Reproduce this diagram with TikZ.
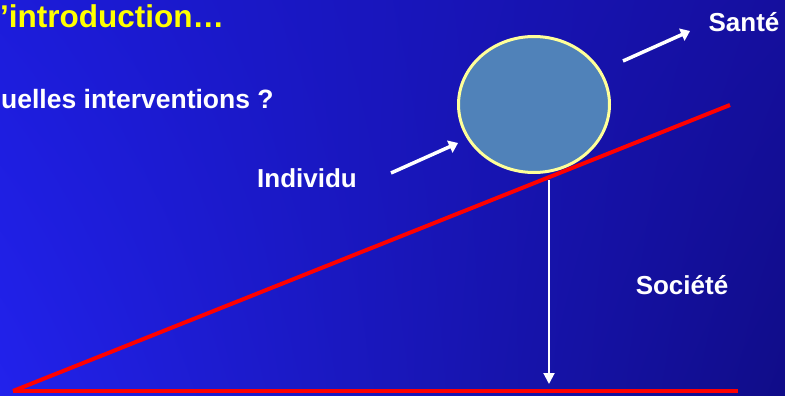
\documentclass[tikz,border=0pt]{standalone}
\usepackage{fontspec}
\setmainfont{Liberation Sans}
\usetikzlibrary{shapes.geometric,arrows.meta,shadings}
\definecolor{bgUL}{HTML}{1C1CDA}
\definecolor{bgLL}{HTML}{2222EC}
\definecolor{bgUR}{HTML}{150F9E}
\definecolor{bgLR}{HTML}{100C88}
\definecolor{ballfill}{HTML}{5082B9}
\definecolor{ballrim}{HTML}{FFFF99}
\definecolor{titleyel}{HTML}{FFFF00}
\begin{document}
\begin{tikzpicture}[x=1pt, y=-1pt,
   lbl/.style={font=\fontsize{26}{30}\selectfont\bfseries, text=white, inner sep=0pt},
   push/.style={draw=white, line width=3.5pt, -{Triangle[length=9pt, width=13pt]}},
   slope/.style={draw=red, line width=4pt}]
      \useasboundingbox (0,0) rectangle (785,396);
      \shade[upper left=bgUL, lower left=bgLL, upper right=bgUR, lower right=bgLR] (0,0) rectangle (785,396);
      \node[anchor=base west, inner sep=0pt, text=titleyel, font=\fontsize{31.5}{36}\selectfont\bfseries] (title) at (0,28) {’introduction…};
      \node[lbl, anchor=base west, font=\fontsize{26.5}{30}\selectfont\bfseries] (quest) at (1,108) {uelles interventions ?};
      \coordinate (foot) at (13,391);
      \coordinate (top) at (730,105);
      \coordinate (ground) at (738,391);
      \node[ellipse, draw=ballrim, line width=3pt, fill=ballfill, minimum width=151pt, minimum height=136pt, inner sep=0pt] (ball) at (534,104.5) {};
      \node[lbl, anchor=base] (indiv) at (307,187) {Individu};
      \node[lbl, anchor=base] (sante) at (744,32) {Santé};
      \node[lbl, anchor=base] (soc) at (682,294) {Société};
      \coordinate (inS) at (391,173);
      \coordinate (inE) at (458,143);
      \coordinate (outS) at (623,61);
      \coordinate (outE) at (690,31);
      \coordinate (contact) at (549,180);
      \coordinate (base) at (549,384);
      \draw[slope] (foot) -- (top);
      \draw[slope] (foot) -- (ground);
      \draw[push] (inS) -- (inE);
      \draw[push] (outS) -- (outE);
      \draw[draw=white, line width=2pt, -{Triangle[length=11pt, width=11pt]}] (contact) -- (base);
   \end{tikzpicture}
\end{document}
